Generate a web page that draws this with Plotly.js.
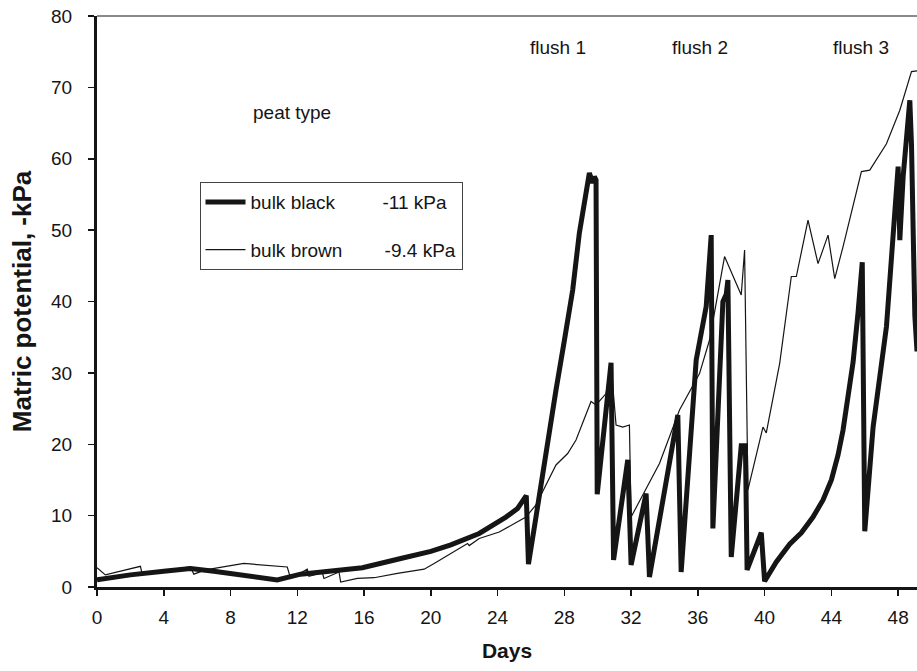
<!DOCTYPE html>
<html>
<head>
<meta charset="utf-8">
<script src="https://cdn.plot.ly/plotly-3.0.1.min.js"></script>
<style>html,body{margin:0;padding:0;background:#fff;}#chart{width:917px;height:671px;}</style>
</head>
<body>
<div id="chart"></div>
<script>
// ---- data ----
const blackDays = [0.0, 2.0, 4.0, 5.6, 7.0, 9.0, 10.8, 12.2, 14.0, 15.9, 18.2, 20.0, 21.2, 22.9, 24.5, 25.2, 25.72,
  25.85, 26.3, 26.9, 27.5, 28.0, 28.5, 28.9, 29.2, 29.5, 29.7, 29.8, 29.9,
  29.97, 30.8, 30.95, 31.8, 32.0, 32.9, 33.1, 34.8, 35.0, 35.9, 36.5, 36.8,
  36.9, 37.5, 37.7, 37.8, 38.0, 38.6, 38.85, 38.95, 39.8, 40.0,
  40.7, 41.5, 42.2, 42.9, 43.5, 44.0, 44.4, 44.7, 45.0, 45.3, 45.6, 45.85,
  46.0, 46.5, 47.3, 47.8, 48.0, 48.1, 48.3, 48.7, 48.8, 49.0, 49.13];
const blackKPa = [1.0, 1.7, 2.2, 2.6, 2.2, 1.6, 1.0, 1.8, 2.2, 2.7, 4.0, 5.0, 5.9, 7.5, 9.8, 11.0, 12.8,
  3.2, 9.8, 19.2, 27.6, 34.5, 41.6, 49.6, 53.5, 58.0, 56.6, 57.5, 57.0,
  13.0, 31.4, 3.8, 17.8, 3.1, 13.1, 1.4, 24.1, 2.1, 31.8, 39.3, 49.3,
  8.2, 40.0, 41.0, 43.0, 4.2, 19.8, 19.8, 2.4, 7.6, 0.8,
  3.5, 6.0, 7.6, 9.8, 12.2, 15.0, 18.5, 22.0, 26.5, 31.5, 38.5, 45.5,
  7.8, 22.4, 36.5, 52.8, 58.9, 48.6, 57.5, 68.2, 62.0, 38.0, 33.0];

const brownDays = [0.0, 0.5, 2.6, 2.7, 5.6, 5.8, 6.5, 8.8, 11.4, 11.6, 12.6, 12.7, 13.5, 13.6, 14.5, 14.6, 15.6, 16.6,
  18.0, 19.6, 20.2, 22.2, 22.3, 22.9, 24.1, 25.7, 26.3, 27.5, 28.2, 28.7, 29.6, 29.9, 30.5, 30.8,
  31.1, 31.5, 31.9, 32.0, 32.7, 33.7, 34.9, 36.1, 36.7, 37.6, 38.6, 38.8, 39.0, 39.9, 40.0, 40.1,
  40.9, 41.6, 41.9, 42.6, 43.2, 43.8, 44.2, 44.7, 45.8, 46.3, 47.3, 48.1, 48.8, 49.13];
const brownKPa = [2.7, 1.7, 2.9, 1.9, 2.8, 1.8, 2.4, 3.3, 2.8, 1.2, 2.5, 1.5, 2.0, 1.2, 2.1, 0.7, 1.2, 1.3,
  1.9, 2.5, 3.3, 6.1, 5.8, 6.8, 7.7, 9.8, 11.5, 17.1, 18.7, 20.6, 26.0, 25.5, 27.1, 31.0,
  22.7, 22.4, 22.7, 9.8, 12.9, 17.3, 24.8, 29.9, 34.6, 46.3, 40.9, 47.2, 13.6, 22.4, 22.0, 21.6,
  31.3, 43.5, 43.5, 51.4, 45.3, 49.3, 43.2, 47.7, 58.2, 58.4, 62.1, 66.8, 72.2, 72.3];

const seriesNames = ['bulk black\u00a0\u00a0\u00a0\u00a0\u00a0\u00a0\u00a0\u00a0\u00a0-11 kPa',
                     'bulk brown\u00a0\u00a0\u00a0\u00a0\u00a0\u00a0\u00a0\u00a0-9.4 kPa'];
const xTicks = [0, 4, 8, 12, 16, 20, 24, 28, 32, 36, 40, 44, 48];
const yTicks = [0, 10, 20, 30, 40, 50, 60, 70, 80];
const noteTexts = ['peat type', 'flush 1', 'flush 2', 'flush 3'];
const noteDays = [11.7, 27.6, 36.1, 45.8];
const noteKPa = [66.5, 75.6, 75.6, 75.6];

// ---- chart ----
const FONT = 'Liberation Sans, Arial, Helvetica, sans-serif';
const INK = '#151515';

const traces = [
  {x: blackDays, y: blackKPa, type: 'scatter', mode: 'lines', name: seriesNames[0], legendgroup: 'a',
   line: {color: INK, width: 5}},
  {x: brownDays, y: brownKPa, type: 'scatter', mode: 'lines', name: seriesNames[1], legendgroup: 'b',
   line: {color: INK, width: 1.2}}
];

const annotations = noteTexts.map((t, i) => ({
  x: noteDays[i], y: noteKPa[i], xref: 'x', yref: 'y', text: t, showarrow: false,
  font: {family: FONT, size: 19, color: INK}
}));

const layout = {
  width: 917, height: 671,
  margin: {l: 97, r: 0, t: 16, b: 84},
  paper_bgcolor: '#fff', plot_bgcolor: '#fff',
  showlegend: true,
  legend: {x: 0.125, y: 0.709, xanchor: 'left', yanchor: 'top', bgcolor: '#fff',
           bordercolor: '#444', borderwidth: 1, tracegroupgap: 20, itemwidth: 40,
           font: {family: FONT, size: 19, color: INK}},
  xaxis: {range: [0, 49.13], tickvals: xTicks, ticks: 'outside', ticklen: 6, tickwidth: 1.5, tickcolor: INK,
          showline: true, linewidth: 2.5, linecolor: INK, showgrid: false, zeroline: false,
          ticklabelstandoff: 6,
          tickfont: {family: FONT, size: 19, color: INK},
          title: {text: 'Days', standoff: 16, font: {family: FONT, size: 21, color: INK, weight: 'bold'}}},
  yaxis: {range: [0, 80], tickvals: yTicks, ticks: 'outside', ticklen: 6, tickwidth: 1.5, tickcolor: INK,
          showline: true, linewidth: 3, linecolor: INK, showgrid: false, zeroline: false,
          ticklabelstandoff: 12,
          tickfont: {family: FONT, size: 19, color: INK},
          title: {text: 'Matric potential, -kPa', standoff: 12, font: {family: FONT, size: 26, color: INK, weight: 'bold'}}},
  shapes: [{type: 'line', xref: 'paper', yref: 'paper', x0: 0, x1: 1, y0: 1, y1: 1, line: {color: INK, width: 1}}],
  annotations: annotations
};

Plotly.newPlot('chart', traces, layout, {displayModeBar: false, staticPlot: true});
</script>
</body>
</html>
